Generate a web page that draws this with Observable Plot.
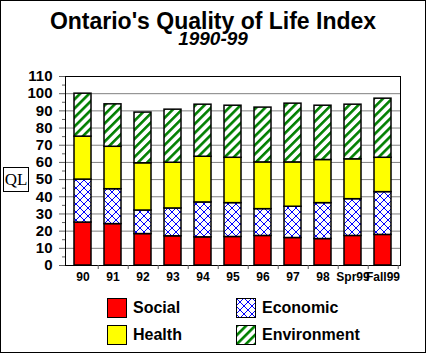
<!DOCTYPE html>
<html><head><meta charset="utf-8">
<script src="https://cdn.jsdelivr.net/npm/d3@7"></script>
<script src="https://cdn.jsdelivr.net/npm/@observablehq/plot@0.6"></script>
<style>
body{margin:0;background:#fff;}
#chart{position:relative;width:426px;height:353px;overflow:hidden;font-family:"Liberation Sans",Arial,sans-serif;background:#fff;color:#000;}
#chart svg.plot{position:absolute;left:0;top:0;}
#border{position:absolute;left:0;top:0;width:426px;height:353px;box-sizing:border-box;border:1px solid #000;pointer-events:none;}
#title{position:absolute;left:0;width:426px;top:12px;text-align:center;font-weight:bold;font-size:23px;line-height:18px;white-space:nowrap;}
#subtitle{position:absolute;left:0;width:426px;top:31px;text-align:center;font-weight:bold;font-style:italic;font-size:19px;line-height:16px;}
#ql{position:absolute;left:3px;top:167px;width:26px;height:25px;box-sizing:border-box;border:1px solid #000;font-family:"Liberation Serif","Times New Roman",serif;font-size:17px;line-height:23px;text-align:center;background:#fff;}
.lg{position:absolute;display:flex;align-items:center;font-weight:bold;font-size:16px;line-height:16px;white-space:nowrap;}
.lg svg{display:block;margin-right:6px;}
</style>
</head><body>
<div id="chart">
  <div id="title">Ontario's Quality of Life Index</div>
  <div id="subtitle">1990-99</div>
  <div id="ql">QL</div>
  <div id="legend"></div>
  <div id="border"></div>
</div>
<script>
const categories = ["90","91","92","93","94","95","96","97","98","Spr99","Fall99"];
const seriesNames = ["Social","Economic","Health","Environment"];
const social      = [25, 24.1, 18.3, 17.0, 16.4, 16.6, 17.2, 16.0, 15.4, 17.2, 17.8];
const economic    = [25, 20.3, 13.7, 16.2, 20.3, 19.7, 15.6, 18.2, 20.9, 21.4, 24.9];
const health      = [25, 24.7, 27.5, 26.6, 26.6, 26.4, 27.2, 25.8, 25.1, 23.2, 20.0];
const environment = [25, 24.7, 29.5, 30.9, 30.3, 30.3, 31.9, 34.2, 31.6, 31.8, 34.4];
const yTicks = [0,10,20,30,40,50,60,70,80,90,100,110];
const yMinor = [5,15,25,35,45,55,65,75,85,95,105];
const seriesFills = ["#ff0000","url(#econ)","#ffff00","url(#env)"];

const rows = [];
[social, economic, health, environment].forEach((vals, s) =>
  vals.forEach((v, i) => rows.push({cat: categories[i], series: seriesNames[s], value: v})));

const W = 426, H = 353, mL = 65, mR = 26, mT = 76, mB = 88;
const step = (W - mL - mR) / categories.length;

const plot = Plot.plot({
  width: W, height: H,
  marginLeft: mL, marginRight: mR, marginTop: mT, marginBottom: mB,
  style: {background: "transparent", fontFamily: "'Liberation Sans', Arial, sans-serif", color: "#000", overflow: "visible"},
  x: {domain: categories, paddingInner: 0.44, paddingOuter: 0.22, label: null},
  y: {domain: [0, 110], label: null},
  color: {domain: seriesNames, range: seriesFills},
  marks: [
    Plot.gridY(yTicks.filter(t => t > 0 && t < 110), {stroke: "#808080", strokeOpacity: 1}),
    Plot.barY(rows, Plot.stackY({x: "cat", y: "value", z: "series", fill: "series", stroke: "#000", strokeWidth: 1.5})),
    Plot.frame({stroke: "#000", strokeWidth: 1}),
    Plot.axisY({ticks: yTicks, tickSize: 6, tickPadding: 7, fontSize: 15, fontWeight: "bold", stroke: "#606060", label: null}),
    Plot.axisY({ticks: yMinor, tickSize: 3, tickFormat: () => "", stroke: "#606060", label: null}),
    Plot.axisX({tickSize: 0, tickPadding: 7, fontSize: 12, fontWeight: "bold", label: null}),
    Plot.axisX({tickSize: 4, tickFormat: () => "", dx: step / 2, stroke: "#606060", label: null})
  ]
});

d3.select(plot).insert("defs", ":first-child").html(
  '<pattern id="econ" patternUnits="userSpaceOnUse" width="8" height="8">' +
  '<rect width="8" height="8" fill="#fff"/>' +
  '<path d="M0,0L8,8M8,0L0,8" stroke="#0000ff" stroke-width="1"/>' +
  '<rect x="3.5" y="3.5" width="1.5" height="1.5" fill="#0000ff"/></pattern>' +
  '<pattern id="env" patternUnits="userSpaceOnUse" width="6.4" height="6.4" patternTransform="rotate(45)">' +
  '<rect width="6.4" height="6.4" fill="#fff"/>' +
  '<rect width="2.6" height="6.4" fill="#008000"/></pattern>'
);
document.getElementById("chart").insertBefore(plot, document.getElementById("title"));

// legend
const legendPos = [[107, 298], [236, 298], [107, 325], [236, 325]];
const legend = document.getElementById("legend");
seriesNames.forEach((name, i) => {
  const div = document.createElement("div");
  div.className = "lg";
  div.style.left = legendPos[i][0] + "px";
  div.style.top = legendPos[i][1] + "px";
  div.innerHTML = `<svg width="20" height="20"><rect x="0.5" y="0.5" width="19" height="19" fill="${seriesFills[i]}" stroke="#000" stroke-width="1"/></svg><span>${name}</span>`;
  legend.appendChild(div);
});
</script>
</body></html>
